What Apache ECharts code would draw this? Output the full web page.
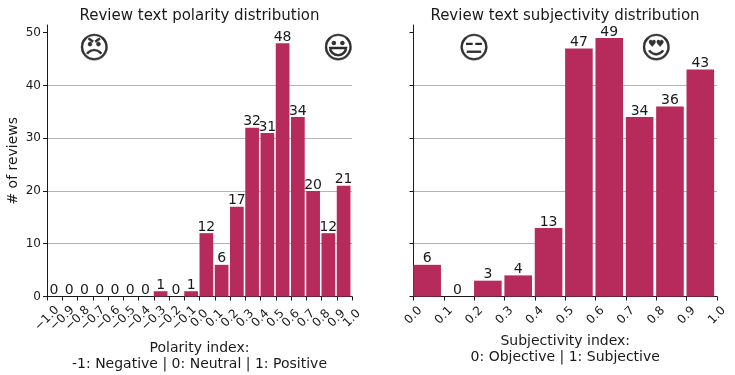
<!DOCTYPE html>
<html>
<head>
<meta charset="utf-8">
<style>
html, body { margin: 0; padding: 0; background: #fff; }
#chart { width: 735px; height: 375px; }
</style>
</head>
<body>
<div id="chart"></div>
<script src="https://cdn.jsdelivr.net/npm/echarts@6/dist/echarts.min.js"></script>
<script>
// histogram bins, left edge of each bin
const polarityEdges = [-1.0, -0.9, -0.8, -0.7, -0.6, -0.5, -0.4, -0.3, -0.2, -0.1, 0.0, 0.1, 0.2, 0.3, 0.4, 0.5, 0.6, 0.7, 0.8, 0.9]
const polarityCounts = [0, 0, 0, 0, 0, 0, 0, 1, 0, 1, 12, 6, 17, 32, 31, 48, 34, 20, 12, 21]
const subjectivityEdges = [0.0, 0.1, 0.2, 0.3, 0.4, 0.5, 0.6, 0.7, 0.8, 0.9]
const subjectivityCounts = [6, 0, 3, 4, 13, 47, 49, 34, 36, 43]
const polarityTicks = ['\u22121.0', '\u22120.9', '\u22120.8', '\u22120.7', '\u22120.6', '\u22120.5', '\u22120.4', '\u22120.3', '\u22120.2', '\u22120.1', '0.0', '0.1', '0.2', '0.3', '0.4', '0.5', '0.6', '0.7', '0.8', '0.9', '1.0']
const subjectivityTicks = ['0.0', '0.1', '0.2', '0.3', '0.4', '0.5', '0.6', '0.7', '0.8', '0.9', '1.0']
const yTicks = [0, 10, 20, 30, 40, 50]
const polarityFaces = [[-0.69, 46.6, '\u{1F620}'], [0.91, 46.6, '\u{1F603}']]
const subjectivityFaces = [[0.2, 46.6, '\u{1F611}'], [0.8, 46.6, '\u{1F60D}']]

const FONT = 'DejaVu Sans'
const BAR_COLOR = '#b72a5c'
const INK = '#1a1a1a'
// bars are 90% of the bin wide and sit on the left edge of the bin
const barData = (edges, counts) => edges.map((e, i) => [e + (edges[1] - edges[0]) * 0.45, counts[i]])

// the value axis places the bars, it is not drawn
function scaleAxis (idx, min, max) {
  return { type: 'value', gridIndex: idx, min: min, max: max, show: false, splitLine: { show: false } }
}

// the drawn x axis, category so that every overlapping tick label stays
function tickAxis (idx, ticks, name, margin, gap) {
  return {
    type: 'category',
    gridIndex: idx,
    data: ticks,
    boundaryGap: false,
    position: 'bottom',
    name: name,
    nameLocation: 'middle',
    nameGap: gap,
    nameTextStyle: { fontFamily: FONT, fontSize: 14, color: INK, lineHeight: 16 },
    splitLine: { show: false },
    axisLine: { onZero: false, lineStyle: { color: INK, width: 1 } },
    axisTick: { length: 4, interval: 0, lineStyle: { color: INK } },
    axisLabel: {
      interval: 0,
      rotate: 45,
      margin: margin,
      align: 'center',
      verticalAlign: 'middle',
      fontFamily: FONT,
      fontSize: 12,
      color: INK,
      hideOverlap: false
    }
  }
}

function yAxis (idx, showLabels, name) {
  return {
    type: 'value',
    gridIndex: idx,
    min: 0,
    max: 51.45,
    interval: 10,
    name: name,
    nameLocation: 'middle',
    nameGap: 27,
    nameTextStyle: { fontFamily: FONT, fontSize: 14, color: INK },
    splitLine: { show: true, showMinLine: false, showMaxLine: false, lineStyle: { color: '#b5b5b5', width: 1 } },
    axisLine: { show: true, onZero: false, lineStyle: { color: INK, width: 1 } },
    axisTick: { show: true, length: 4, customValues: yTicks, lineStyle: { color: INK } },
    axisLabel: { show: showLabels, customValues: yTicks, margin: 6, fontFamily: FONT, fontSize: 12, color: INK }
  }
}

function barSeries (idx, edges, counts, width) {
  return {
    type: 'bar',
    xAxisIndex: idx,
    yAxisIndex: idx,
    barWidth: width,
    itemStyle: { color: BAR_COLOR },
    label: {
      show: true,
      position: 'top',
      distance: -1,
      fontFamily: FONT,
      fontSize: 14,
      color: INK,
      formatter: (p) => String(p.value[1])
    },
    data: barData(edges, counts)
  }
}

function faceSeries (idx, faces) {
  return {
    type: 'scatter',
    xAxisIndex: idx,
    yAxisIndex: idx,
    symbolSize: 0,
    silent: true,
    label: {
      show: true,
      position: 'inside',
      fontFamily: FONT,
      fontSize: 30,
      color: '#000',
      textBorderColor: '#000',
      textBorderWidth: 0.4,
      formatter: (p) => p.value[2]
    },
    data: faces
  }
}

const option = {
  animation: false,
  backgroundColor: '#fff',
  title: [
    { text: 'Review text polarity distribution', left: 194.5, top: 4, textAlign: 'center', textStyle: { fontFamily: FONT, fontSize: 15, fontWeight: 'normal', color: INK } },
    { text: 'Review text subjectivity distribution', left: 560, top: 4, textAlign: 'center', textStyle: { fontFamily: FONT, fontSize: 15, fontWeight: 'normal', color: INK } }
  ],
  grid: [
    { left: 47, top: 25, width: 305, height: 271.5, outerBoundsMode: 'none' },
    { left: 413.5, top: 25, width: 303.5, height: 271.5, outerBoundsMode: 'none' }
  ],
  xAxis: [
    scaleAxis(0, -1, 1),
    scaleAxis(1, 0, 1),
    tickAxis(0, polarityTicks, 'Polarity index:\n-1: Negative | 0: Neutral | 1: Positive', 22, 38),
    tickAxis(1, subjectivityTicks, 'Subjectivity index:\n0: Objective | 1: Subjective', 19, 30)
  ],
  yAxis: [
    yAxis(0, true, '# of reviews'),
    yAxis(1, false, '')
  ],
  series: [
    barSeries(0, polarityEdges, polarityCounts, 13.7),
    barSeries(1, subjectivityEdges, subjectivityCounts, 27.6),
    faceSeries(0, polarityFaces),
    faceSeries(1, subjectivityFaces)
  ]
}

const chart = echarts.init(document.getElementById('chart'), null, { renderer: 'canvas' })
chart.setOption(option)
</script>
</body>
</html>
